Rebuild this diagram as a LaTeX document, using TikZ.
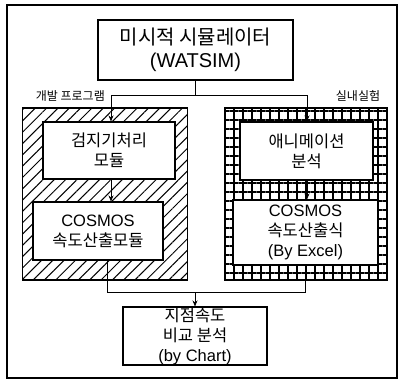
\documentclass[tikz,border=0pt]{standalone}
\usepackage{fontspec}
\setmainfont{Liberation Sans}
\newfontfamily\kr{Noto Sans CJK KR}
\usetikzlibrary{patterns.meta,arrows.meta}
\begin{document}
\begin{tikzpicture}[x=1pt,y=-1pt,
  box/.style={draw,line width=1.1pt,fill=white,align=center,inner sep=0pt},
  outerbox/.style={draw,line width=1.2pt,inner sep=0pt},
  hatchbox/.style={outerbox,pattern={Lines[angle=45,distance=8pt,line width=1pt]}},
  gridbox/.style={outerbox,pattern={Hatch[angle=0,distance=9pt,line width=1.5pt]}},
  big/.style={font=\fontsize{20}{23}\selectfont},
  mid/.style={font=\fontsize{16.5}{20}\selectfont},
  small/.style={font=\kr\fontsize{12}{12}\selectfont,inner sep=0pt},
  conn/.style={line width=0.9pt},
  arr/.style={conn,-{Stealth[length=6pt,width=5pt]}}
]
\useasboundingbox (0,0) rectangle (398,381);
\node[draw,line width=1.6pt,minimum width=390pt,minimum height=373pt,inner sep=0pt] (frame) at (202,191.5) {};
% outer patterned boxes
\node[hatchbox,minimum width=165pt,minimum height=172pt] (LO) at (105,194) {};
\node[gridbox,minimum width=162pt,minimum height=172pt] (RO) at (306,194) {};
% boxes
\node[box,big,minimum width=195pt,minimum height=60pt] (top) at (195.5,50) {{\kr 미시적 시뮬레이터}\\(WATSIM)};
\node[box,mid,minimum width=132pt,minimum height=57pt] (L1) at (109,150.5) {{\kr 검지기처리}\\{\kr 모듈}};
\node[box,mid,minimum width=130pt,minimum height=58pt] (L2) at (98,231) {COSMOS\\{\kr 속도산출모듈}};
\node[box,mid,minimum width=133pt,minimum height=58pt] (R1) at (306.5,151) {{\kr 애니메이션}\\{\kr 분석}};
\node[box,mid,minimum width=145pt,minimum height=65pt] (R2) at (305.5,232.5) {COSMOS\\{\kr 속도산출식}\\(By Excel)};
\node[box,mid,minimum width=144pt,minimum height=58pt] (B) at (195,336) {{\kr 지점속도}\\{\kr 비교 분석}\\(by Chart)};
% labels
\node[small,anchor=east] (lblL) at (105,96) {개발 프로그램};
\node[small] (lblR) at (358,96) {실내실험};
% connector points
\coordinate (jt) at (195.5,95);
\coordinate (jl) at (111,95);
\coordinate (jr) at (307,95);
\coordinate (jb) at (195,292);
\coordinate (bl) at (107,292);
\coordinate (br) at (305,292);
\draw[conn] (top.south) -- (jt);
\draw[conn] (jl) -- (jr);
\draw[arr] (jl) -- (jl |- L1.north);
\draw[arr] (jr) -- (jr |- R1.north);
\draw[arr] (L1.south -| jl) -- (L2.north -| jl);
\draw[arr] (R1.south -| jr) -- (R2.north -| jr);
\draw[conn] (L2.south -| bl) -- (bl) -- (br) -- (R2.south -| br);
\draw[arr] (jb) -- (B.north);
\end{tikzpicture}
\end{document}
